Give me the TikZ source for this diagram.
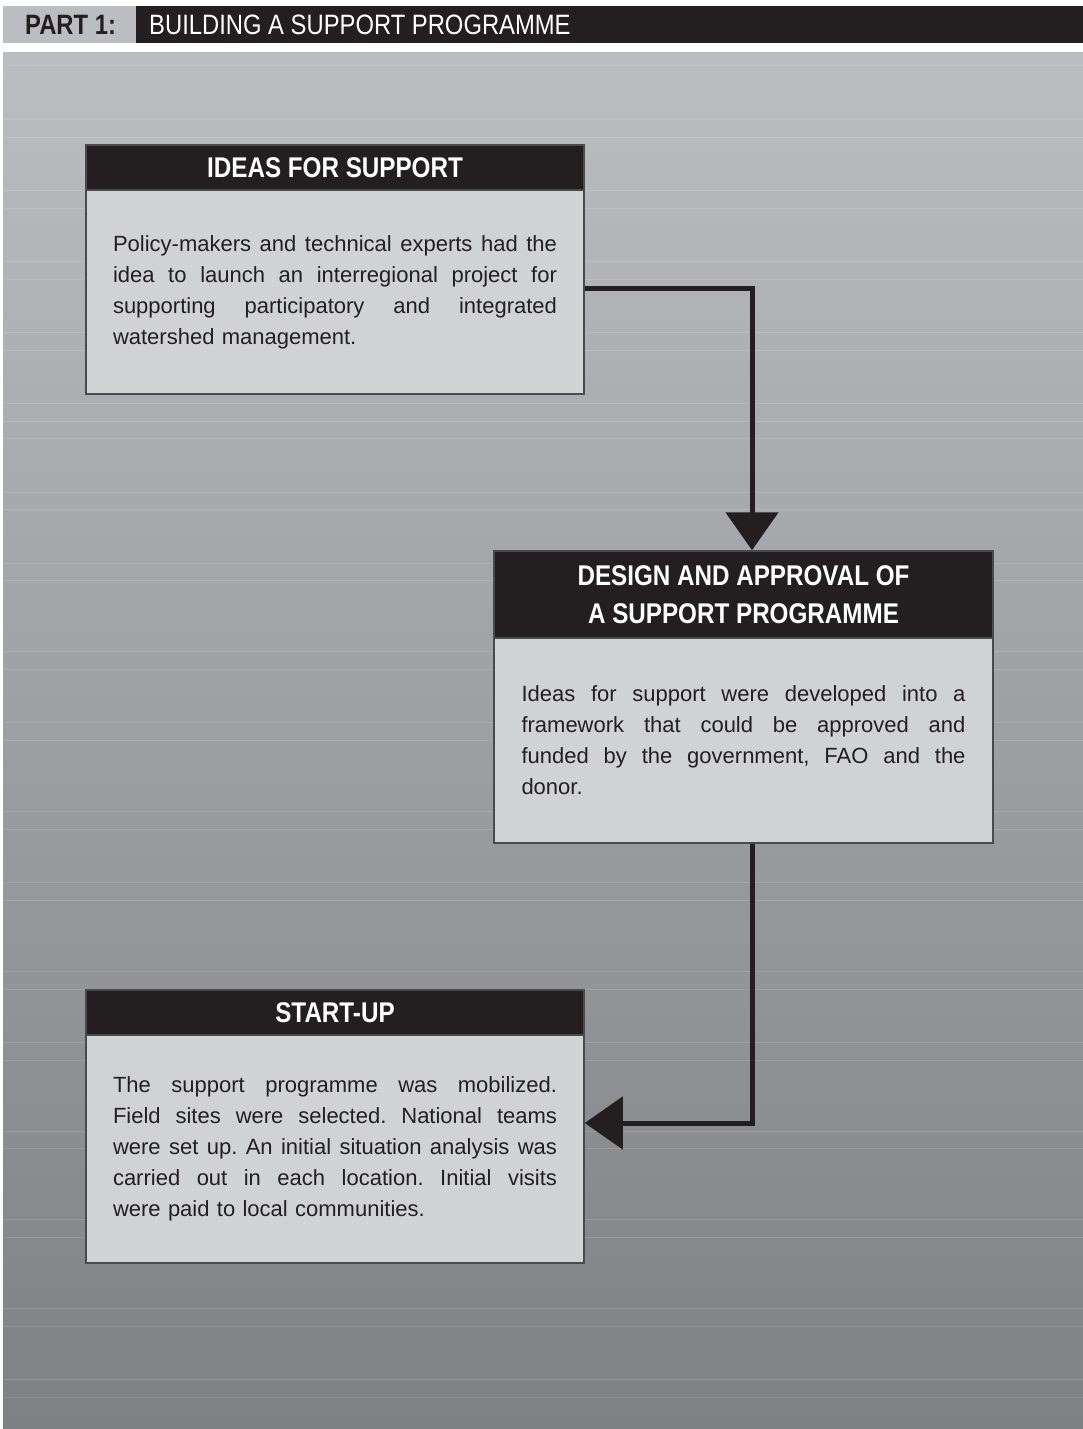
\documentclass[tikz,border=0pt]{standalone}
\usepackage{fontspec}
\setmainfont{Liberation Sans}
\newfontfamily\condfont[FakeStretch=0.85]{Liberation Sans}
\usetikzlibrary{arrows.meta}
\definecolor{ink}{HTML}{231F20}
\definecolor{panel}{HTML}{D1D2D4}
\definecolor{bgtop}{HTML}{BCBDC0}
\definecolor{bgbot}{HTML}{7F8084}
\definecolor{rim}{HTML}{4A4A4C}
\setlength{\parindent}{0pt}
\frenchspacing
\hbadness=10000
% one fully justified line of body text: spaces share the spare width
\newcommand\jline[1]{\hbox to 444pt{\spaceskip=\fontdimen2\font plus 1fil\relax #1}}

\begin{document}
\begin{tikzpicture}[x=1pt,y=-1pt,
  headbar/.style={fill=ink, draw=rim, line width=1.5pt, minimum width=498pt,
    inner sep=0pt, text=white, align=center,
    font=\condfont\bfseries\fontsize{28.5}{38}\selectfont},
  panelbox/.style={fill=panel, draw=rim, line width=1.5pt, minimum width=498pt,
    inner sep=0pt, text width=444pt, text=ink,
    font=\fontsize{22}{31}\selectfont},
  flow/.style={draw=ink, line width=5pt, line join=miter,
    -{Triangle[width=52pt,length=38pt]}},
  grain/.style={white, opacity=0.13, line width=1pt}
]
\useasboundingbox (0,0) rectangle (1083,1429);
\fill[white] (0,0) rectangle (1083,1429);

% title strip
\fill[bgtop] (3,6) rectangle (136,43);
\fill[ink] (136,6) rectangle (1083,43);
\node[anchor=base west, inner sep=0pt, text=ink,
  font=\condfont\bfseries\fontsize{28}{30}\selectfont] (part) at (25,35) {PART 1:};
\node[anchor=base west, inner sep=0pt, text=white,
  font=\condfont\fontsize{28}{30}\selectfont] (title) at (149,35) {BUILDING A SUPPORT PROGRAMME};

% shaded backdrop with faint horizontal streaks
\shade[top color=bgtop, bottom color=bgbot] (3,53) rectangle (1083,1429);
\foreach \k in {0,3,4,7,8,11,12,15,16,19,20,21,24,25,28,29,33,34,37,38,42,43,46,47,51,52,55,56,60,61,65,66,70,71,74,75}
  \draw[grain] (3,66+17.75*\k) -- (1083,66+17.75*\k);

% first stage
\node[panelbox, minimum height=204pt] (b1) at (335,292) {%
\jline{Policy-makers and technical experts had the}
\jline{idea to launch an interregional project for}
\jline{supporting participatory and integrated}
watershed management.};
\node[headbar, minimum height=45pt] (h1) at (335,167.5) {IDEAS FOR SUPPORT};

% second stage
\node[panelbox, minimum height=205pt, minimum width=499pt] (b2) at (743.5,740.5) {%
\jline{Ideas for support were developed into a}
\jline{framework that could be approved and}
\jline{funded by the government, FAO and the}
donor.};
\node[headbar, minimum height=87pt, minimum width=499pt] (h2) at (743.5,594.5) {DESIGN AND APPROVAL OF\\A SUPPORT PROGRAMME};

% third stage
\node[panelbox, minimum height=228pt] (b3) at (335,1149) {%
\jline{The support programme was mobilized.}
\jline{Field sites were selected. National teams}
\jline{were set up. An initial situation analysis was}
\jline{carried out in each location. Initial visits}
were paid to local communities.};
\node[headbar, minimum height=45pt] (h3) at (335,1012.5) {START-UP};

% connectors
\draw[flow] ([yshift=4pt]b1.east) -| ([xshift=8.5pt]h2.north);
\draw[flow] ([xshift=8.5pt]b2.south) |- ([yshift=26pt]b3.east);
\end{tikzpicture}
\end{document}
